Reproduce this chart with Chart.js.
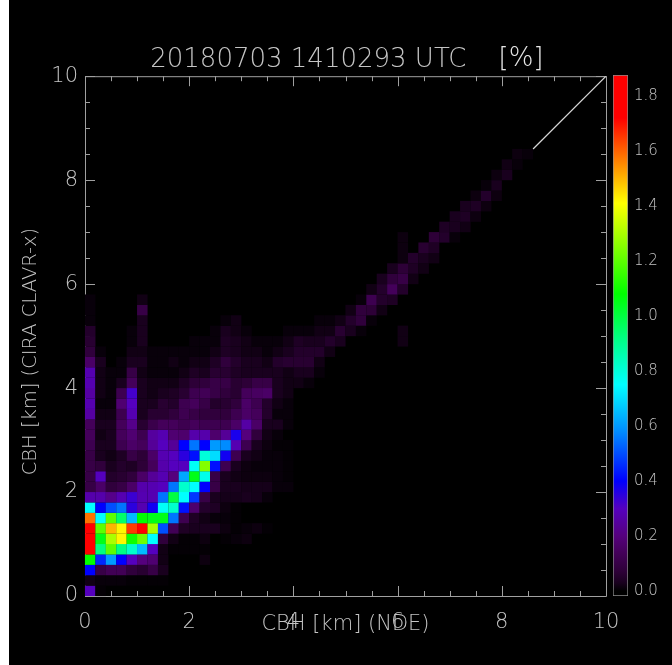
<!DOCTYPE html>
<html>
<head>
<meta charset="utf-8">
<title>CBH</title>
<script src="https://cdn.jsdelivr.net/npm/chart.js@4/dist/chart.umd.min.js"></script>
<style>
html, body { margin: 0; padding: 0; background: #000; width: 672px; height: 665px; overflow: hidden; }
#strip { position: absolute; left: 0; top: 0; width: 9px; height: 665px; background: #fff; }
#main { position: absolute; left: 0; top: 0; filter: blur(0.6px); }
#bar { position: absolute; left: 0; top: 0; filter: blur(0.5px); }
</style>
</head>
<body>
<div style="position:absolute;left:0;top:0;width:672px;height:665px"><canvas id="main" width="672" height="665"></canvas></div>
<div style="position:absolute;left:606px;top:0;width:66px;height:665px"><canvas id="bar" width="66" height="665"></canvas></div>
<div id="strip"></div>
<script>
// percent per 0.2 km bin, one list per row from the bottom, starting at column 0 or rowStart
const rowStart = [0,0,0,0,0,0,0,0,0,0,0,0,0,0,0,0,0,0,0,0,0,0,0,0,0,0,0,0,0,27,28,29,30,30,30,34,35,36,37,38,39,40,41];
const rowValues = [
  [.3,.005],
  [.02,.01,.01,.01,.005,.005,.005,.005],
  [.4,.1,.13,.13,.08,.06,.1,.03],
  [1.08,.45,.6,.4,.3,.2,.18,.02,0,0,0,.015],
  [1.8,.92,1.2,.92,.82,.65,.3,.02,.005,.005,.005,.005],
  [1.8,1.05,1.3,1.42,1.1,1.22,.75,.08,.02,.005,.005,.015,0,.005,.01,.015],
  [1.8,1.2,1.5,1.42,1.65,1.75,1.3,.5,.13,.04,.03,.03,.03,.015,.005,.01,.015,.005],
  [1.58,.75,1.2,.95,.65,1.08,1.05,1.05,.55,.12,.04,.02,.01,.01,.005],
  [.75,.4,.5,.55,.35,.28,.38,.76,.82,.42,.17,.05,.04,.015,.005],
  [.27,.27,.22,.28,.33,.28,.28,.55,1.0,.75,.47,.1,.03,.025,.025,.03,.025,.01],
  [.1,.16,.08,.1,.16,.27,.28,.3,.55,.82,.75,.4,.1,.03,.03,.025,.025,.025,.01,.01],
  [.1,.3,.05,.06,.08,.16,.24,.28,.2,.62,1.05,.78,.1,.03,.02,.015,.015,.015,.01,.005],
  [.1,.08,.03,.05,.04,.07,.14,.27,.3,.3,.76,1.25,.42,.12,.03,.015,.01,.01,.01,.005],
  [.1,.03,.02,.04,.1,.07,.16,.28,.3,.35,.42,.8,.7,.38,.12,.03,.02,.01,.01,.005],
  [.12,.03,.03,.12,.16,.14,.24,.3,.24,.4,.55,.4,.6,.58,.28,.12,.03,.015,.005,.005],
  [.14,.02,.03,.14,.18,.12,.25,.28,.18,.17,.27,.27,.17,.24,.37,.2,.08,.02,.01],
  [.14,.03,.03,.14,.22,.06,.11,.14,.14,.12,.14,.12,.12,.12,.16,.26,.16,.03,.03,.01],
  [.26,.02,.02,.12,.28,.03,.06,.06,.08,.12,.1,.08,.08,.08,.12,.16,.14,.05,.01,.01],
  [.28,.01,.01,.18,.3,.03,.03,.06,.05,.12,.14,.1,.05,.06,.08,.16,.12,.05,.02,.01],
  [.26,.02,.01,.12,.32,.03,.02,.03,.04,.06,.12,.13,.1,.08,.06,.14,.15,.16,.03,.02],
  [.28,.02,.01,.03,.14,.03,.02,.02,.02,.04,.07,.08,.1,.1,.06,.07,.1,.1,.03,.02,.02,.01],
  [.28,.02,.01,.01,.1,.02,.01,.01,.01,.02,.04,.03,.06,.06,.04,.03,.03,.03,.03,.02,.03,.03,.01],
  [.16,.03,0,.01,.03,.03,.01,.01,.02,.01,.02,.02,.04,.08,.05,.03,.03,.02,.05,.06,.06,.06,.02],
  [.08,.01,0,0,.02,.02,.01,.01,.01,.01,.01,.01,.02,.04,.03,.02,.02,.01,.02,.03,.05,.05,.05,.02],
  [.06,0,0,0,.01,.03,0,0,0,0,.01,.01,.01,.04,.03,.02,.01,.01,.01,.02,.04,.03,.03,.05,.03,0,0,0,0,0,.02],
  [.05,0,0,0,.01,.03,0,0,0,0,0,0,.01,.03,.02,.01,0,0,0,.01,.01,.01,.02,.02,.06,.03,.01,0,0,0,.02],
  [.01,0,0,0,0,.03,0,0,0,0,0,0,0,.01,.02,0,0,0,0,0,0,0,.01,.01,.02,.05,.08,.01],
  [.01,0,0,0,0,.1,0,0,0,0,0,0,0,0,0,0,0,0,0,0,0,0,0,0,0,.02,.08,.07,.02],
  [.01,0,0,0,0,.02,0,0,0,0,0,0,0,0,0,0,0,0,0,0,0,0,0,0,0,0,.01,.12,.05,.04],
  [.02,.05,.14,.05],
  [.03,.08,.1,.02],
  [.03,.07,.04,.02],
  [.015,.05,.03,.02],
  [.015,0,.06,.04],
  [.015,0,0,.07,.05,.01],
  [.04,.03,.02],
  [.03,.04,.015],
  [.03,.04,.015],
  [.015,.05,.015],
  [.01,.03],
  [.015,.03],
  [.02,.01],
  [.015,.01]
];
const binWidth = 0.2;
const diagonalX = [8.6, 10];
const diagonalY = [8.6, 10];
const labelTicks = [0, 2, 4, 6, 8, 10];
const minorTicks = [0.5, 1, 1.5, 2.5, 3, 3.5, 4.5, 5, 5.5, 6.5, 7, 7.5, 8.5, 9, 9.5];
const colorTicks = [0, 0.2, 0.4, 0.6, 0.8, 1.0, 1.2, 1.4, 1.6, 1.8];
const colorLevels = [0, 0.03, 0.07, 0.14, 0.2, 0.3, 0.4, 0.58, 0.75, 0.92, 1.08, 1.41, 1.72, 1.876];
const colorRgb = [[0,0,0],[25,0,30],[45,0,55],[68,0,90],[85,0,125],[85,0,190],[0,0,255],[0,140,255],[0,255,255],[0,255,130],[0,255,0],[255,255,0],[255,0,0],[255,0,0]];

const textGray = '#c4c4c4';
const fontName = '"DejaVu Sans"';
const fontWeight = 200;

function colorOf(v){
    for(var i = 1; i < colorLevels.length; i++){
        if(v <= colorLevels[i]){
            var t = (v - colorLevels[i-1]) / (colorLevels[i] - colorLevels[i-1]);
            var a = colorRgb[i-1], b = colorRgb[i];
            return 'rgb(' + Math.round(a[0]+(b[0]-a[0])*t) + ',' + Math.round(a[1]+(b[1]-a[1])*t) + ',' + Math.round(a[2]+(b[2]-a[2])*t) + ')';
        }
    }
    return 'rgb(255,0,0)';
}

var cells = [];
rowValues.forEach(function(row, j){
    row.forEach(function(v, k){
        if(v > 0) cells.push({x: (rowStart[j] + k + 0.5) * binWidth, y: (j + 0.5) * binWidth, v: v});
    });
});

// box and inward ticks, painted before the cells so that the cells cover them
const boxTicks = {
    id: 'boxTicks',
    beforeDatasetsDraw: function(chart){
        var ctx = chart.ctx, a = chart.chartArea, sx = chart.scales.x, sy = chart.scales.y;
        ctx.save();
        ctx.strokeStyle = '#a0a0a0';
        ctx.lineWidth = 1;
        ctx.beginPath();
        ctx.rect(a.left + .5, a.top + .5, a.right - a.left, a.bottom - a.top);
        function mark(v, len){
            var px = Math.round(sx.getPixelForValue(v)) + .5, py = Math.round(sy.getPixelForValue(v)) + .5;
            ctx.moveTo(px, a.bottom); ctx.lineTo(px, a.bottom - len);
            ctx.moveTo(px, a.top); ctx.lineTo(px, a.top + len);
            ctx.moveTo(a.left, py); ctx.lineTo(a.left + len, py);
            ctx.moveTo(a.right, py); ctx.lineTo(a.right - len, py);
        }
        labelTicks.forEach(function(v){ mark(v, 10); });
        minorTicks.forEach(function(v){ mark(v, 5); });
        ctx.stroke();
        ctx.restore();
    }
};

// the unit in the title is brighter than the date
const titleUnit = {
    id: 'titleUnit',
    afterDraw: function(chart){
        var ctx = chart.ctx;
        ctx.save();
        ctx.fillStyle = '#e6e6e6';
        ctx.font = '200 26px ' + fontName;
        ctx.textAlign = 'center';
        ctx.textBaseline = 'middle';
        ctx.fillText('[%]', 521, 59);
        ctx.restore();
    }
};

new Chart(document.getElementById('main'), {
    type: 'scatter',
    plugins: [boxTicks, titleUnit],
    data: {
        datasets: [
            {
                data: cells,
                order: 1,
                clip: false,
                pointStyle: 'rect',
                pointRadius: function(c){ return (c.chart.scales.x.width / 50 + .1) / Math.SQRT2; },
                pointHoverRadius: 0,
                pointBorderWidth: 0,
                pointBackgroundColor: function(c){ return c.raw ? colorOf(c.raw.v) : '#000'; }
            },
            {
                type: 'line',
                data: diagonalX.map(function(x, i){ return {x: x, y: diagonalY[i]}; }),
                order: 2,
                pointRadius: 0,
                borderColor: '#d8d8d8',
                borderWidth: 1.2
            }
        ]
    },
    options: {
        responsive: false,
        animation: false,
        layout: { padding: { left: 0, right: 66, top: 0, bottom: 0 } },
        plugins: {
            legend: { display: false },
            tooltip: { enabled: false },
            title: {
                display: true,
                fullSize: false,
                text: '20180703 1410293 UTC         ',
                color: textGray,
                font: { family: fontName, size: 26, weight: fontWeight },
                padding: { top: 45, bottom: 0 }
            }
        },
        scales: {
            x: {
                type: 'linear', min: 0, max: 10,
                afterBuildTicks: function(s){ s.ticks = labelTicks.map(function(v){ return {value: v}; }); },
                afterFit: function(s){ s.height = 69; },
                grid: { display: false, drawTicks: false },
                border: { display: false },
                ticks: { color: textGray, font: { family: fontName, size: 21, weight: fontWeight }, padding: 14, maxRotation: 0, autoSkip: false },
                title: { display: true, text: 'CBH [km] (NDE)', color: textGray, font: { family: fontName, size: 21, weight: fontWeight }, padding: { top: 0, bottom: 28 } }
            },
            y: {
                type: 'linear', min: 0, max: 10,
                afterBuildTicks: function(s){ s.ticks = labelTicks.map(function(v){ return {value: v}; }); },
                afterFit: function(s){ s.width = 85; },
                grid: { display: false, drawTicks: false },
                border: { display: false },
                ticks: { color: textGray, font: { family: fontName, size: 21, weight: fontWeight }, padding: 7, autoSkip: false },
                title: { display: true, text: 'CBH [km] (CIRA CLAVR-x)     ', color: textGray, font: { family: fontName, size: 19.5, weight: fontWeight }, padding: { top: 19, bottom: 0 } }
            }
        }
    }
});

new Chart(document.getElementById('bar'), {
    type: 'bar',
    data: {
        labels: ['%'],
        datasets: [{
            data: [[colorLevels[0] - 0.018, colorLevels[colorLevels.length - 1]]],
            barPercentage: 1,
            categoryPercentage: 1,
            borderColor: '#8c8c8c',
            borderWidth: 1,
            borderSkipped: false,
            backgroundColor: function(c){
                var a = c.chart.chartArea, s = c.chart.scales.y;
                if(!a) return '#000';
                var g = c.chart.ctx.createLinearGradient(0, a.bottom, 0, a.top);
                colorLevels.forEach(function(v, i){
                    var t = (s.getPixelForValue(v) - a.bottom) / (a.top - a.bottom);
                    g.addColorStop(Math.min(1, Math.max(0, t)), 'rgb(' + colorRgb[i].join(',') + ')');
                });
                return g;
            }
        }]
    },
    options: {
        responsive: false,
        animation: false,
        layout: { padding: { left: 7, right: 0, top: 75, bottom: 69 } },
        plugins: { legend: { display: false }, tooltip: { enabled: false } },
        scales: {
            x: { display: false },
            y: {
                position: 'right',
                min: -0.018, max: 1.876,
                afterBuildTicks: function(s){ s.ticks = colorTicks.map(function(v){ return {value: v}; }); },
                afterFit: function(s){ s.width = 44; },
                grid: { display: false, drawTicks: false },
                border: { display: false },
                ticks: {
                    color: textGray,
                    font: { family: fontName, size: 15, weight: fontWeight },
                    padding: 6,
                    autoSkip: false,
                    callback: function(v){ return v.toFixed(1); }
                }
            }
        }
    }
});
</script>
</body>
</html>
